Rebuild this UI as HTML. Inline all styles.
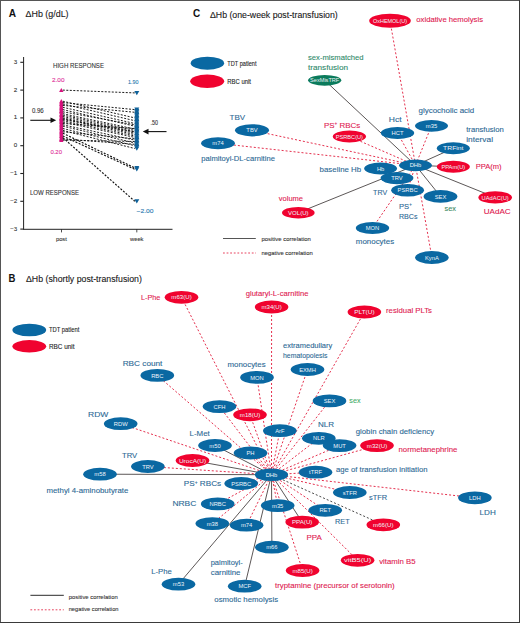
<!DOCTYPE html>
<html><head><meta charset="utf-8"><style>
html,body{margin:0;padding:0;background:#fff;}
body{width:520px;height:623px;overflow:hidden;}
svg{display:block;font-family:"Liberation Sans", sans-serif;}
</style></head><body>
<svg width="520" height="623" viewBox="0 0 520 623">
<rect x="0" y="0" width="520" height="623" fill="#fff"/>
<rect x="0" y="0" width="520" height="1" fill="#555"/>
<rect x="0" y="0" width="1" height="623" fill="#555"/>
<rect x="519" y="0" width="1" height="623" fill="#3a3a3a"/>
<rect x="0" y="622" width="520" height="1" fill="#3a3a3a"/>
<text x="8.7" y="16.5" font-size="10.3" fill="#111" font-weight="bold" textLength="7.3" lengthAdjust="spacingAndGlyphs">A</text>
<text x="25.6" y="16.8" font-size="8.7" fill="#181818" stroke="#181818" stroke-width="0.1" textLength="43.0" lengthAdjust="spacingAndGlyphs">&#916;Hb (g/dL)</text>
<line x1="23.6" y1="57" x2="23.6" y2="229.8" stroke="#222" stroke-width="1"/>
<line x1="23.6" y1="229.3" x2="172.5" y2="229.3" stroke="#222" stroke-width="1"/>
<line x1="20.3" y1="62.3" x2="23.6" y2="62.3" stroke="#222" stroke-width="1.1"/>
<text x="17.3" y="63.8" font-size="6.2" fill="#333" stroke="#333" stroke-width="0.1" text-anchor="end">3</text>
<line x1="20.3" y1="90.1" x2="23.6" y2="90.1" stroke="#222" stroke-width="1.1"/>
<text x="17.3" y="91.6" font-size="6.2" fill="#333" stroke="#333" stroke-width="0.1" text-anchor="end">2</text>
<line x1="20.3" y1="117.9" x2="23.6" y2="117.9" stroke="#222" stroke-width="1.1"/>
<text x="17.3" y="119.4" font-size="6.2" fill="#333" stroke="#333" stroke-width="0.1" text-anchor="end">1</text>
<line x1="20.3" y1="145.7" x2="23.6" y2="145.7" stroke="#222" stroke-width="1.1"/>
<text x="17.3" y="147.2" font-size="6.2" fill="#333" stroke="#333" stroke-width="0.1" text-anchor="end">0</text>
<line x1="20.3" y1="173.5" x2="23.6" y2="173.5" stroke="#222" stroke-width="1.1"/>
<text x="17.3" y="175.0" font-size="6.2" fill="#333" stroke="#333" stroke-width="0.1" text-anchor="end">&#8722;1</text>
<line x1="20.3" y1="201.3" x2="23.6" y2="201.3" stroke="#222" stroke-width="1.1"/>
<text x="17.3" y="202.8" font-size="6.2" fill="#333" stroke="#333" stroke-width="0.1" text-anchor="end">&#8722;2</text>
<line x1="20.3" y1="229.1" x2="23.6" y2="229.1" stroke="#222" stroke-width="1.1"/>
<text x="17.3" y="230.6" font-size="6.2" fill="#333" stroke="#333" stroke-width="0.1" text-anchor="end">&#8722;3</text>
<line x1="61.5" y1="229.3" x2="61.5" y2="232.4" stroke="#222" stroke-width="0.8"/>
<line x1="136.8" y1="229.3" x2="136.8" y2="232.4" stroke="#222" stroke-width="0.8"/>
<text x="55.9" y="241.2" font-size="6" fill="#333" stroke="#333" stroke-width="0.1" textLength="11.0" lengthAdjust="spacingAndGlyphs">post</text>
<text x="130.0" y="241.0" font-size="6.2" fill="#333" stroke="#333" stroke-width="0.1" textLength="13.5" lengthAdjust="spacingAndGlyphs">week</text>
<text x="53.0" y="68.3" font-size="6.6" fill="#333" stroke="#333" stroke-width="0.1" textLength="51.0" lengthAdjust="spacingAndGlyphs">HIGH RESPONSE</text>
<text x="30.0" y="194.9" font-size="6.6" fill="#333" stroke="#333" stroke-width="0.1" textLength="49.0" lengthAdjust="spacingAndGlyphs">LOW RESPONSE</text>
<text x="52.0" y="81.5" font-size="5.8" fill="#e0309a" stroke="#e0309a" stroke-width="0.1" textLength="12.5" lengthAdjust="spacingAndGlyphs">2.00</text>
<text x="50.4" y="154.2" font-size="5.8" fill="#e0309a" stroke="#e0309a" stroke-width="0.1" textLength="11.6" lengthAdjust="spacingAndGlyphs">0.20</text>
<text x="128.0" y="84.0" font-size="5.8" fill="#2a7ab0" stroke="#2a7ab0" stroke-width="0.1" textLength="10.5" lengthAdjust="spacingAndGlyphs">1.90</text>
<text x="136.5" y="212.8" font-size="5.8" fill="#2a7ab0" stroke="#2a7ab0" stroke-width="0.1" textLength="17.0" lengthAdjust="spacingAndGlyphs">&#8722;2.00</text>
<text x="31.9" y="112.9" font-size="6.3" fill="#333" stroke="#333" stroke-width="0.1" textLength="11.8" lengthAdjust="spacingAndGlyphs">0.96</text>
<text x="150.5" y="125.0" font-size="6.3" fill="#333" stroke="#333" stroke-width="0.1" textLength="7.5" lengthAdjust="spacingAndGlyphs">.50</text>
<line x1="30.3" y1="120.3" x2="52" y2="120.3" stroke="#111" stroke-width="1.1"/>
<path d="M50.5 117.5 L56.2 120.3 L50.5 123.1 Z" fill="#111"/>
<line x1="147.5" y1="131.6" x2="166.5" y2="131.6" stroke="#111" stroke-width="1.1"/>
<path d="M148.5 128.8 L142.8 131.6 L148.5 134.4 Z" fill="#111"/>
<path d="M59.099999999999994 92.1 L63.5 92.1 L61.3 87.9 Z" fill="#d8107e"/>
<path d="M59.099999999999994 103.2 L63.5 103.2 L61.3 99.0 Z" fill="#d8107e"/>
<path d="M59.099999999999994 104.6 L63.5 104.6 L61.3 100.4 Z" fill="#d8107e"/>
<path d="M59.099999999999994 106.0 L63.5 106.0 L61.3 101.8 Z" fill="#d8107e"/>
<path d="M59.099999999999994 107.4 L63.5 107.4 L61.3 103.2 Z" fill="#d8107e"/>
<path d="M59.099999999999994 109.3 L63.5 109.3 L61.3 105.1 Z" fill="#d8107e"/>
<path d="M59.099999999999994 111.6 L63.5 111.6 L61.3 107.4 Z" fill="#d8107e"/>
<path d="M59.099999999999994 113.8 L63.5 113.8 L61.3 109.6 Z" fill="#d8107e"/>
<path d="M59.099999999999994 115.7 L63.5 115.7 L61.3 111.5 Z" fill="#d8107e"/>
<path d="M59.099999999999994 117.1 L63.5 117.1 L61.3 112.9 Z" fill="#d8107e"/>
<path d="M59.099999999999994 118.5 L63.5 118.5 L61.3 114.3 Z" fill="#d8107e"/>
<path d="M59.099999999999994 119.9 L63.5 119.9 L61.3 115.7 Z" fill="#d8107e"/>
<path d="M59.099999999999994 120.7 L63.5 120.7 L61.3 116.5 Z" fill="#d8107e"/>
<path d="M59.099999999999994 121.6 L63.5 121.6 L61.3 117.4 Z" fill="#d8107e"/>
<path d="M59.099999999999994 122.7 L63.5 122.7 L61.3 118.5 Z" fill="#d8107e"/>
<path d="M59.099999999999994 124.1 L63.5 124.1 L61.3 119.9 Z" fill="#d8107e"/>
<path d="M59.099999999999994 125.5 L63.5 125.5 L61.3 121.3 Z" fill="#d8107e"/>
<path d="M59.099999999999994 126.8 L63.5 126.8 L61.3 122.6 Z" fill="#d8107e"/>
<path d="M59.099999999999994 128.2 L63.5 128.2 L61.3 124.0 Z" fill="#d8107e"/>
<path d="M59.099999999999994 130.5 L63.5 130.5 L61.3 126.3 Z" fill="#d8107e"/>
<path d="M59.099999999999994 132.4 L63.5 132.4 L61.3 128.2 Z" fill="#d8107e"/>
<path d="M59.099999999999994 133.8 L63.5 133.8 L61.3 129.6 Z" fill="#d8107e"/>
<path d="M59.099999999999994 135.2 L63.5 135.2 L61.3 131.0 Z" fill="#d8107e"/>
<path d="M59.099999999999994 138.0 L63.5 138.0 L61.3 133.8 Z" fill="#d8107e"/>
<path d="M59.099999999999994 139.6 L63.5 139.6 L61.3 135.4 Z" fill="#d8107e"/>
<path d="M59.099999999999994 141.0 L63.5 141.0 L61.3 136.8 Z" fill="#d8107e"/>
<path d="M59.099999999999994 142.1 L63.5 142.1 L61.3 137.9 Z" fill="#d8107e"/>
<path d="M59.099999999999994 110.2 L63.5 110.2 L61.3 106.0 Z" fill="#d8107e"/>
<path d="M59.099999999999994 112.9 L63.5 112.9 L61.3 108.7 Z" fill="#d8107e"/>
<path d="M59.099999999999994 129.6 L63.5 129.6 L61.3 125.4 Z" fill="#d8107e"/>
<path d="M59.099999999999994 136.6 L63.5 136.6 L61.3 132.4 Z" fill="#d8107e"/>
<line x1="62.8" y1="90.1" x2="134.8" y2="92.9" stroke="#111" stroke-width="0.95" stroke-dasharray="2 1.5"/>
<line x1="62.8" y1="101.2" x2="134.8" y2="117.9" stroke="#111" stroke-width="0.95" stroke-dasharray="2 1.5"/>
<line x1="62.8" y1="102.6" x2="134.8" y2="109.6" stroke="#111" stroke-width="0.95" stroke-dasharray="2 1.5"/>
<line x1="62.8" y1="104.0" x2="134.8" y2="120.7" stroke="#111" stroke-width="0.95" stroke-dasharray="2 1.5"/>
<line x1="62.8" y1="105.4" x2="134.8" y2="112.3" stroke="#111" stroke-width="0.95" stroke-dasharray="2 1.5"/>
<line x1="62.8" y1="107.3" x2="134.8" y2="123.5" stroke="#111" stroke-width="0.95" stroke-dasharray="2 1.5"/>
<line x1="62.8" y1="109.6" x2="134.8" y2="126.2" stroke="#111" stroke-width="0.95" stroke-dasharray="2 1.5"/>
<line x1="62.8" y1="111.8" x2="134.8" y2="124.8" stroke="#111" stroke-width="0.95" stroke-dasharray="2 1.5"/>
<line x1="62.8" y1="113.7" x2="134.8" y2="129.0" stroke="#111" stroke-width="0.95" stroke-dasharray="2 1.5"/>
<line x1="62.8" y1="115.1" x2="134.8" y2="130.4" stroke="#111" stroke-width="0.95" stroke-dasharray="2 1.5"/>
<line x1="62.8" y1="116.5" x2="134.8" y2="131.8" stroke="#111" stroke-width="0.95" stroke-dasharray="2 1.5"/>
<line x1="62.8" y1="117.9" x2="134.8" y2="133.2" stroke="#111" stroke-width="0.95" stroke-dasharray="2 1.5"/>
<line x1="62.8" y1="118.7" x2="134.8" y2="134.6" stroke="#111" stroke-width="0.95" stroke-dasharray="2 1.5"/>
<line x1="62.8" y1="119.6" x2="134.8" y2="131.8" stroke="#111" stroke-width="0.95" stroke-dasharray="2 1.5"/>
<line x1="62.8" y1="120.7" x2="134.8" y2="136.0" stroke="#111" stroke-width="0.95" stroke-dasharray="2 1.5"/>
<line x1="62.8" y1="122.1" x2="134.8" y2="137.4" stroke="#111" stroke-width="0.95" stroke-dasharray="2 1.5"/>
<line x1="62.8" y1="123.5" x2="134.8" y2="128.5" stroke="#111" stroke-width="0.95" stroke-dasharray="2 1.5"/>
<line x1="62.8" y1="124.8" x2="134.8" y2="140.1" stroke="#111" stroke-width="0.95" stroke-dasharray="2 1.5"/>
<line x1="62.8" y1="126.2" x2="134.8" y2="142.9" stroke="#111" stroke-width="0.95" stroke-dasharray="2 1.5"/>
<line x1="62.8" y1="128.5" x2="134.8" y2="145.7" stroke="#111" stroke-width="0.95" stroke-dasharray="2 1.5"/>
<line x1="62.8" y1="130.4" x2="134.8" y2="148.5" stroke="#111" stroke-width="0.95" stroke-dasharray="2 1.5"/>
<line x1="62.8" y1="131.8" x2="134.8" y2="138.8" stroke="#111" stroke-width="0.95" stroke-dasharray="2 1.5"/>
<line x1="62.8" y1="133.2" x2="134.8" y2="167.9" stroke="#111" stroke-width="1.15" stroke-dasharray="2 1.5"/>
<line x1="62.8" y1="136.0" x2="134.8" y2="169.3" stroke="#111" stroke-width="1.15" stroke-dasharray="2 1.5"/>
<line x1="62.8" y1="137.6" x2="134.8" y2="201.3" stroke="#111" stroke-width="1.15" stroke-dasharray="2 1.5"/>
<line x1="62.8" y1="139.0" x2="134.8" y2="144.3" stroke="#111" stroke-width="0.95" stroke-dasharray="2 1.5"/>
<line x1="62.8" y1="140.1" x2="134.8" y2="141.5" stroke="#111" stroke-width="0.95" stroke-dasharray="2 1.5"/>
<path d="M134.3 90.9 L139.3 90.9 L136.8 95.2 Z" fill="#0e6199"/>
<path d="M134.3 115.9 L139.3 115.9 L136.8 120.2 Z" fill="#0e6199"/>
<path d="M134.3 107.6 L139.3 107.6 L136.8 111.9 Z" fill="#0e6199"/>
<path d="M134.3 118.7 L139.3 118.7 L136.8 123.0 Z" fill="#0e6199"/>
<path d="M134.3 110.3 L139.3 110.3 L136.8 114.6 Z" fill="#0e6199"/>
<path d="M134.3 121.5 L139.3 121.5 L136.8 125.8 Z" fill="#0e6199"/>
<path d="M134.3 124.2 L139.3 124.2 L136.8 128.5 Z" fill="#0e6199"/>
<path d="M134.3 122.8 L139.3 122.8 L136.8 127.1 Z" fill="#0e6199"/>
<path d="M134.3 127.0 L139.3 127.0 L136.8 131.3 Z" fill="#0e6199"/>
<path d="M134.3 128.4 L139.3 128.4 L136.8 132.7 Z" fill="#0e6199"/>
<path d="M134.3 129.8 L139.3 129.8 L136.8 134.1 Z" fill="#0e6199"/>
<path d="M134.3 131.2 L139.3 131.2 L136.8 135.5 Z" fill="#0e6199"/>
<path d="M134.3 132.6 L139.3 132.6 L136.8 136.9 Z" fill="#0e6199"/>
<path d="M134.3 129.8 L139.3 129.8 L136.8 134.1 Z" fill="#0e6199"/>
<path d="M134.3 134.0 L139.3 134.0 L136.8 138.3 Z" fill="#0e6199"/>
<path d="M134.3 135.4 L139.3 135.4 L136.8 139.7 Z" fill="#0e6199"/>
<path d="M134.3 126.5 L139.3 126.5 L136.8 130.8 Z" fill="#0e6199"/>
<path d="M134.3 138.1 L139.3 138.1 L136.8 142.4 Z" fill="#0e6199"/>
<path d="M134.3 140.9 L139.3 140.9 L136.8 145.2 Z" fill="#0e6199"/>
<path d="M134.3 143.7 L139.3 143.7 L136.8 148.0 Z" fill="#0e6199"/>
<path d="M134.3 146.5 L139.3 146.5 L136.8 150.8 Z" fill="#0e6199"/>
<path d="M134.3 136.8 L139.3 136.8 L136.8 141.1 Z" fill="#0e6199"/>
<path d="M134.3 165.9 L139.3 165.9 L136.8 170.2 Z" fill="#0e6199"/>
<path d="M134.3 167.3 L139.3 167.3 L136.8 171.6 Z" fill="#0e6199"/>
<path d="M134.3 199.3 L139.3 199.3 L136.8 203.6 Z" fill="#0e6199"/>
<path d="M134.3 142.3 L139.3 142.3 L136.8 146.6 Z" fill="#0e6199"/>
<path d="M134.3 139.5 L139.3 139.5 L136.8 143.8 Z" fill="#0e6199"/>
<path d="M134.3 108.9 L139.3 108.9 L136.8 113.2 Z" fill="#0e6199"/>
<path d="M134.3 111.7 L139.3 111.7 L136.8 116.0 Z" fill="#0e6199"/>
<path d="M134.3 113.1 L139.3 113.1 L136.8 117.4 Z" fill="#0e6199"/>
<path d="M134.3 114.5 L139.3 114.5 L136.8 118.8 Z" fill="#0e6199"/>
<path d="M134.3 117.3 L139.3 117.3 L136.8 121.6 Z" fill="#0e6199"/>
<path d="M134.3 120.1 L139.3 120.1 L136.8 124.4 Z" fill="#0e6199"/>
<path d="M134.3 125.6 L139.3 125.6 L136.8 129.9 Z" fill="#0e6199"/>
<path d="M134.3 145.1 L139.3 145.1 L136.8 149.4 Z" fill="#0e6199"/>
<text x="192.9" y="16.6" font-size="10.3" fill="#111" font-weight="bold" textLength="7.2" lengthAdjust="spacingAndGlyphs">C</text>
<text x="210.0" y="18.0" font-size="8.7" fill="#181818" stroke="#181818" stroke-width="0.1" textLength="127.7" lengthAdjust="spacingAndGlyphs">&#916;Hb (one-week post-transfusion)</text>
<ellipse cx="207.4" cy="63.2" rx="16.7" ry="6.5" fill="#0a68a2"/>
<ellipse cx="207.2" cy="81.2" rx="17" ry="6.8" fill="#f0032f"/>
<text x="227.3" y="65.6" font-size="6.4" fill="#222" stroke="#222" stroke-width="0.1" textLength="29.2" lengthAdjust="spacingAndGlyphs">TDT patient</text>
<text x="227.3" y="83.6" font-size="6.4" fill="#222" stroke="#222" stroke-width="0.1" textLength="23.7" lengthAdjust="spacingAndGlyphs">RBC unit</text>
<line x1="223" y1="238.5" x2="255.8" y2="238.5" stroke="#555" stroke-width="1.2"/>
<line x1="223" y1="253" x2="256" y2="253" stroke="#e5304e" stroke-width="0.9" stroke-dasharray="1.8 1.8"/>
<text x="261.5" y="240.6" font-size="5.7" fill="#333" stroke="#333" stroke-width="0.1" textLength="49.3" lengthAdjust="spacingAndGlyphs">positive correlation</text>
<text x="261.5" y="255.0" font-size="5.7" fill="#333" stroke="#333" stroke-width="0.1" textLength="51.2" lengthAdjust="spacingAndGlyphs">negative correlation</text>
<line x1="390" y1="20.8" x2="415.5" y2="165.3" stroke="#e5304e" stroke-width="1" stroke-dasharray="2 2"/>
<line x1="324.7" y1="80.3" x2="415.5" y2="165.3" stroke="#4a4444" stroke-width="0.9"/>
<line x1="397.5" y1="133" x2="415.5" y2="165.3" stroke="#e5304e" stroke-width="1" stroke-dasharray="2 2"/>
<line x1="431.5" y1="125.8" x2="415.5" y2="165.3" stroke="#e5304e" stroke-width="1" stroke-dasharray="2 2"/>
<line x1="453.3" y1="148.3" x2="415.5" y2="165.3" stroke="#4a4444" stroke-width="0.9"/>
<line x1="453.3" y1="166.8" x2="415.5" y2="165.3" stroke="#4a4444" stroke-width="0.9"/>
<line x1="495.2" y1="197.4" x2="415.5" y2="165.3" stroke="#4a4444" stroke-width="0.9"/>
<line x1="440.5" y1="196.4" x2="415.5" y2="165.3" stroke="#4a4444" stroke-width="0.9"/>
<line x1="431.9" y1="257.5" x2="415.5" y2="165.3" stroke="#e5304e" stroke-width="1" stroke-dasharray="2 2"/>
<line x1="407.6" y1="190.2" x2="415.5" y2="165.3" stroke="#e5304e" stroke-width="1" stroke-dasharray="2 2"/>
<line x1="372.5" y1="228" x2="415.5" y2="165.3" stroke="#e5304e" stroke-width="1" stroke-dasharray="2 2"/>
<line x1="298.3" y1="212.7" x2="415.5" y2="165.3" stroke="#4a4444" stroke-width="0.9"/>
<line x1="349.4" y1="136.5" x2="415.5" y2="165.3" stroke="#e5304e" stroke-width="1" stroke-dasharray="2 2"/>
<line x1="252" y1="130.3" x2="415.5" y2="165.3" stroke="#e5304e" stroke-width="1" stroke-dasharray="2 2"/>
<line x1="218" y1="143.3" x2="415.5" y2="165.3" stroke="#e5304e" stroke-width="1" stroke-dasharray="2 2"/>
<ellipse cx="390" cy="20.8" rx="20.8" ry="7" fill="#f0032f"/>
<text x="390" y="22.9" font-size="5.8" fill="#eef4fa" text-anchor="middle" textLength="34.0" lengthAdjust="spacingAndGlyphs">OxHEMOL(U)</text>
<ellipse cx="324.7" cy="80.3" rx="16.6" ry="5.4" fill="#0b7b5c"/>
<text x="324.7" y="82.4" font-size="5.8" fill="#eef4fa" text-anchor="middle" textLength="29.2" lengthAdjust="spacingAndGlyphs">SexMisTRF</text>
<ellipse cx="397.5" cy="133" rx="16.7" ry="6.0" fill="#0a68a2"/>
<text x="397.5" y="135.1" font-size="5.8" fill="#eef4fa" text-anchor="middle">HCT</text>
<ellipse cx="431.5" cy="125.8" rx="16.5" ry="5.9" fill="#0a68a2"/>
<text x="431.5" y="127.9" font-size="5.8" fill="#eef4fa" text-anchor="middle">m35</text>
<ellipse cx="453.3" cy="148.3" rx="16.5" ry="6.0" fill="#0a68a2"/>
<text x="453.3" y="150.4" font-size="5.8" fill="#eef4fa" text-anchor="middle" textLength="20.4" lengthAdjust="spacingAndGlyphs">TRFint</text>
<ellipse cx="453.3" cy="166.8" rx="16.5" ry="6.0" fill="#f0032f"/>
<text x="453.3" y="168.9" font-size="5.8" fill="#eef4fa" text-anchor="middle" textLength="23.8" lengthAdjust="spacingAndGlyphs">PPAm(U)</text>
<ellipse cx="495.2" cy="197.4" rx="16.8" ry="6.2" fill="#f0032f"/>
<text x="495.2" y="199.5" font-size="5.8" fill="#eef4fa" text-anchor="middle" textLength="27.2" lengthAdjust="spacingAndGlyphs">UAdAC(U)</text>
<ellipse cx="440.5" cy="196.4" rx="16.9" ry="6.3" fill="#0a68a2"/>
<text x="440.5" y="198.5" font-size="5.8" fill="#eef4fa" text-anchor="middle">SEX</text>
<ellipse cx="431.9" cy="257.5" rx="16.8" ry="6.5" fill="#0a68a2"/>
<text x="431.9" y="259.6" font-size="5.8" fill="#eef4fa" text-anchor="middle">KynA</text>
<ellipse cx="407.6" cy="190.2" rx="16.4" ry="6.3" fill="#0a68a2"/>
<text x="407.6" y="192.3" font-size="5.8" fill="#eef4fa" text-anchor="middle">PSRBC</text>
<ellipse cx="397" cy="178.1" rx="16.4" ry="6.1" fill="#0a68a2"/>
<text x="397" y="180.2" font-size="5.8" fill="#eef4fa" text-anchor="middle">TRV</text>
<ellipse cx="380.6" cy="168.6" rx="16.4" ry="6.0" fill="#0a68a2"/>
<text x="380.6" y="170.7" font-size="5.8" fill="#eef4fa" text-anchor="middle">Hb</text>
<ellipse cx="372.5" cy="228" rx="16.7" ry="6.0" fill="#0a68a2"/>
<text x="372.5" y="230.1" font-size="5.8" fill="#eef4fa" text-anchor="middle">MON</text>
<ellipse cx="298.3" cy="212.7" rx="16.3" ry="5.8" fill="#f0032f"/>
<text x="298.3" y="214.8" font-size="5.8" fill="#eef4fa" text-anchor="middle" textLength="20.4" lengthAdjust="spacingAndGlyphs">VOL(U)</text>
<ellipse cx="349.4" cy="136.5" rx="16.6" ry="6.0" fill="#f0032f"/>
<text x="349.4" y="138.6" font-size="5.8" fill="#eef4fa" text-anchor="middle" textLength="27.2" lengthAdjust="spacingAndGlyphs">PSRBC(U)</text>
<ellipse cx="252" cy="130.3" rx="17" ry="6.1" fill="#0a68a2"/>
<text x="252" y="132.4" font-size="5.8" fill="#eef4fa" text-anchor="middle">TBV</text>
<ellipse cx="218" cy="143.3" rx="16.9" ry="6.0" fill="#0a68a2"/>
<text x="218" y="145.4" font-size="5.8" fill="#eef4fa" text-anchor="middle">m74</text>
<ellipse cx="415.5" cy="165.3" rx="16.4" ry="5.9" fill="#0a68a2"/>
<text x="415.5" y="167.4" font-size="5.8" fill="#eef4fa" text-anchor="middle">DHb</text>
<text x="416.3" y="21.6" font-size="7.2" fill="#e02050" stroke="#e02050" stroke-width="0.1" textLength="66.7" lengthAdjust="spacingAndGlyphs">oxidative hemolysis</text>
<text x="308.0" y="59.8" font-size="7.2" fill="#2f8a6a" stroke="#2f8a6a" stroke-width="0.1" textLength="55.6" lengthAdjust="spacingAndGlyphs">sex-mismatched</text>
<text x="308.0" y="70.0" font-size="7.2" fill="#2f8a6a" stroke="#2f8a6a" stroke-width="0.1" textLength="40.0" lengthAdjust="spacingAndGlyphs">transfusion</text>
<text x="388.8" y="121.7" font-size="7.6" fill="#2b6894" stroke="#2b6894" stroke-width="0.1" textLength="12.8" lengthAdjust="spacingAndGlyphs">Hct</text>
<text x="418.5" y="112.6" font-size="7.2" fill="#2b6894" stroke="#2b6894" stroke-width="0.1" textLength="55.8" lengthAdjust="spacingAndGlyphs">glycocholic acid</text>
<text x="466.2" y="131.8" font-size="7.2" fill="#2b6894" stroke="#2b6894" stroke-width="0.1" textLength="37.7" lengthAdjust="spacingAndGlyphs">transfusion</text>
<text x="466.2" y="141.9" font-size="7.2" fill="#2b6894" stroke="#2b6894" stroke-width="0.1" textLength="26.8" lengthAdjust="spacingAndGlyphs">interval</text>
<text x="324.0" y="127.6" font-size="8.1" fill="#e02050" stroke="#e02050" stroke-width="0.1" textLength="36.3" lengthAdjust="spacingAndGlyphs">PS<tspan font-size='4.8' dy='-2.7'>+</tspan><tspan dy='2.7'> RBCs</tspan></text>
<text x="229.6" y="119.7" font-size="7.6" fill="#2b6894" stroke="#2b6894" stroke-width="0.1" textLength="15.6" lengthAdjust="spacingAndGlyphs">TBV</text>
<text x="201.3" y="161.3" font-size="7.2" fill="#2b6894" stroke="#2b6894" stroke-width="0.1" textLength="73.6" lengthAdjust="spacingAndGlyphs">palmitoyl-DL-carnitine</text>
<text x="319.6" y="171.6" font-size="7.6" fill="#2b6894" stroke="#2b6894" stroke-width="0.1" textLength="41.6" lengthAdjust="spacingAndGlyphs">baseline Hb</text>
<text x="475.7" y="169.3" font-size="7.6" fill="#e02050" stroke="#e02050" stroke-width="0.1" textLength="25.9" lengthAdjust="spacingAndGlyphs">PPA(m)</text>
<text x="373.1" y="195.0" font-size="7.6" fill="#2b6894" stroke="#2b6894" stroke-width="0.1" textLength="14.0" lengthAdjust="spacingAndGlyphs">TRV</text>
<text x="399.0" y="208.7" font-size="7.6" fill="#2b6894" stroke="#2b6894" stroke-width="0.1">PS<tspan font-size='4.5' dy='-2.5'>+</tspan></text>
<text x="399.0" y="219.3" font-size="7.6" fill="#2b6894" stroke="#2b6894" stroke-width="0.1" textLength="18.5" lengthAdjust="spacingAndGlyphs">RBCs</text>
<text x="444.6" y="211.2" font-size="7.6" fill="#3d8a62" stroke="#3d8a62" stroke-width="0.1" textLength="11.4" lengthAdjust="spacingAndGlyphs">sex</text>
<text x="483.7" y="213.9" font-size="7.6" fill="#e02050" stroke="#e02050" stroke-width="0.1" textLength="27.0" lengthAdjust="spacingAndGlyphs">UAdAC</text>
<text x="278.8" y="201.2" font-size="7.2" fill="#e02050" stroke="#e02050" stroke-width="0.1" textLength="24.2" lengthAdjust="spacingAndGlyphs">volume</text>
<text x="355.8" y="244.1" font-size="7.2" fill="#2b6894" stroke="#2b6894" stroke-width="0.1" textLength="38.4" lengthAdjust="spacingAndGlyphs">monocytes</text>
<text x="8.4" y="281.8" font-size="10.3" fill="#111" font-weight="bold" textLength="6.9" lengthAdjust="spacingAndGlyphs">B</text>
<text x="26.0" y="282.2" font-size="8.7" fill="#181818" stroke="#181818" stroke-width="0.1" textLength="115.9" lengthAdjust="spacingAndGlyphs">&#916;Hb (shortly post-transfusion)</text>
<ellipse cx="29.3" cy="330" rx="16.9" ry="6.3" fill="#0a68a2"/>
<ellipse cx="29.3" cy="346.3" rx="16.9" ry="6.2" fill="#f0032f"/>
<text x="49.0" y="331.7" font-size="6.4" fill="#222" stroke="#222" stroke-width="0.1" textLength="30.3" lengthAdjust="spacingAndGlyphs">TDT patient</text>
<text x="49.0" y="348.6" font-size="6.4" fill="#222" stroke="#222" stroke-width="0.1" textLength="25.5" lengthAdjust="spacingAndGlyphs">RBC unit</text>
<line x1="30.4" y1="595.3" x2="63.8" y2="595.3" stroke="#555" stroke-width="1.2"/>
<line x1="30.4" y1="609.8" x2="63.8" y2="609.8" stroke="#e5304e" stroke-width="0.9" stroke-dasharray="1.8 1.8"/>
<text x="68.7" y="598.9" font-size="5.8" fill="#333" stroke="#333" stroke-width="0.1" textLength="49.0" lengthAdjust="spacingAndGlyphs">positive correlation</text>
<text x="68.7" y="611.3" font-size="5.8" fill="#333" stroke="#333" stroke-width="0.1" textLength="49.8" lengthAdjust="spacingAndGlyphs">negative correlation</text>
<line x1="181.5" y1="297.3" x2="271.5" y2="474.7" stroke="#e5304e" stroke-width="1" stroke-dasharray="2 2"/>
<line x1="271.6" y1="307" x2="271.5" y2="474.7" stroke="#e5304e" stroke-width="1" stroke-dasharray="2 2"/>
<line x1="364.4" y1="312" x2="271.5" y2="474.7" stroke="#e5304e" stroke-width="1" stroke-dasharray="2 2"/>
<line x1="157.3" y1="375.4" x2="271.5" y2="474.7" stroke="#e5304e" stroke-width="1" stroke-dasharray="2 2"/>
<line x1="257" y1="377.4" x2="271.5" y2="474.7" stroke="#e5304e" stroke-width="1" stroke-dasharray="2 2"/>
<line x1="307.5" y1="369.5" x2="271.5" y2="474.7" stroke="#e5304e" stroke-width="1" stroke-dasharray="2 2"/>
<line x1="219.5" y1="406.6" x2="271.5" y2="474.7" stroke="#e5304e" stroke-width="1" stroke-dasharray="2 2"/>
<line x1="250" y1="414.8" x2="271.5" y2="474.7" stroke="#e5304e" stroke-width="1" stroke-dasharray="2 2"/>
<line x1="329.5" y1="400.9" x2="271.5" y2="474.7" stroke="#e5304e" stroke-width="1" stroke-dasharray="2 2"/>
<line x1="120.7" y1="423.7" x2="271.5" y2="474.7" stroke="#e5304e" stroke-width="1" stroke-dasharray="2 2"/>
<line x1="279.8" y1="430.7" x2="271.5" y2="474.7" stroke="#e5304e" stroke-width="1" stroke-dasharray="2 2"/>
<line x1="318.8" y1="438.3" x2="271.5" y2="474.7" stroke="#e5304e" stroke-width="1" stroke-dasharray="2 2"/>
<line x1="339.6" y1="445.6" x2="271.5" y2="474.7" stroke="#e5304e" stroke-width="1" stroke-dasharray="2 2"/>
<line x1="377" y1="445.6" x2="271.5" y2="474.7" stroke="#e5304e" stroke-width="1" stroke-dasharray="2 2"/>
<line x1="215" y1="445.5" x2="271.5" y2="474.7" stroke="#4a4444" stroke-width="0.9"/>
<line x1="250.5" y1="453" x2="271.5" y2="474.7" stroke="#e5304e" stroke-width="1" stroke-dasharray="2 2"/>
<line x1="192.5" y1="460.5" x2="271.5" y2="474.7" stroke="#4a4444" stroke-width="0.9"/>
<line x1="147.9" y1="466.5" x2="271.5" y2="474.7" stroke="#e5304e" stroke-width="1" stroke-dasharray="2 2"/>
<line x1="100" y1="474.2" x2="271.5" y2="474.7" stroke="#4a4444" stroke-width="0.9"/>
<line x1="315.5" y1="472.2" x2="271.5" y2="474.7" stroke="#e5304e" stroke-width="1" stroke-dasharray="2 2"/>
<line x1="474.9" y1="497.8" x2="271.5" y2="474.7" stroke="#e5304e" stroke-width="1" stroke-dasharray="2 2"/>
<line x1="349.8" y1="492.5" x2="271.5" y2="474.7" stroke="#e5304e" stroke-width="1" stroke-dasharray="2 2"/>
<line x1="241.2" y1="483.5" x2="271.5" y2="474.7" stroke="#e5304e" stroke-width="1" stroke-dasharray="2 2"/>
<line x1="217.7" y1="503.9" x2="271.5" y2="474.7" stroke="#e5304e" stroke-width="1" stroke-dasharray="2 2"/>
<line x1="277.7" y1="505.6" x2="271.5" y2="474.7" stroke="#e5304e" stroke-width="1" stroke-dasharray="2 2"/>
<line x1="325.2" y1="510.3" x2="271.5" y2="474.7" stroke="#e5304e" stroke-width="1" stroke-dasharray="2 2"/>
<line x1="383.3" y1="524.8" x2="271.5" y2="474.7" stroke="#333" stroke-width="0.9" stroke-dasharray="2 2"/>
<line x1="302.2" y1="522.1" x2="271.5" y2="474.7" stroke="#4a4444" stroke-width="0.9"/>
<line x1="212.3" y1="523.6" x2="271.5" y2="474.7" stroke="#e5304e" stroke-width="1" stroke-dasharray="2 2"/>
<line x1="246.6" y1="525.2" x2="271.5" y2="474.7" stroke="#e5304e" stroke-width="1" stroke-dasharray="2 2"/>
<line x1="357.6" y1="560.3" x2="271.5" y2="474.7" stroke="#e5304e" stroke-width="1" stroke-dasharray="2 2"/>
<line x1="302.6" y1="570.5" x2="271.5" y2="474.7" stroke="#e5304e" stroke-width="1" stroke-dasharray="2 2"/>
<line x1="271.9" y1="547.2" x2="271.5" y2="474.7" stroke="#4a4444" stroke-width="0.9"/>
<line x1="178.5" y1="584.2" x2="271.5" y2="474.7" stroke="#4a4444" stroke-width="0.9"/>
<line x1="244.7" y1="586.2" x2="271.5" y2="474.7" stroke="#4a4444" stroke-width="0.9"/>
<ellipse cx="181.5" cy="297.3" rx="16.8" ry="6.4" fill="#f0032f"/>
<text x="181.5" y="299.4" font-size="5.8" fill="#eef4fa" text-anchor="middle" textLength="20.4" lengthAdjust="spacingAndGlyphs">m63(U)</text>
<ellipse cx="271.6" cy="307" rx="16.8" ry="6.4" fill="#f0032f"/>
<text x="271.6" y="309.1" font-size="5.8" fill="#eef4fa" text-anchor="middle" textLength="20.4" lengthAdjust="spacingAndGlyphs">m34(U)</text>
<ellipse cx="364.4" cy="312" rx="16.8" ry="6.4" fill="#f0032f"/>
<text x="364.4" y="314.1" font-size="5.8" fill="#eef4fa" text-anchor="middle" textLength="20.4" lengthAdjust="spacingAndGlyphs">PLT(U)</text>
<ellipse cx="157.3" cy="375.4" rx="16.8" ry="6.4" fill="#0a68a2"/>
<text x="157.3" y="377.5" font-size="5.8" fill="#eef4fa" text-anchor="middle">RBC</text>
<ellipse cx="257" cy="377.4" rx="16.8" ry="6.4" fill="#0a68a2"/>
<text x="257" y="379.5" font-size="5.8" fill="#eef4fa" text-anchor="middle">MON</text>
<ellipse cx="307.5" cy="369.5" rx="16.8" ry="6.4" fill="#0a68a2"/>
<text x="307.5" y="371.6" font-size="5.8" fill="#eef4fa" text-anchor="middle">EXMH</text>
<ellipse cx="219.5" cy="406.6" rx="16.8" ry="6.4" fill="#0a68a2"/>
<text x="219.5" y="408.7" font-size="5.8" fill="#eef4fa" text-anchor="middle">CFH</text>
<ellipse cx="250" cy="414.8" rx="16.8" ry="6.4" fill="#f0032f"/>
<text x="250" y="416.9" font-size="5.8" fill="#eef4fa" text-anchor="middle" textLength="20.4" lengthAdjust="spacingAndGlyphs">m18(U)</text>
<ellipse cx="329.5" cy="400.9" rx="16.8" ry="6.4" fill="#0a68a2"/>
<text x="329.5" y="403.0" font-size="5.8" fill="#eef4fa" text-anchor="middle">SEX</text>
<ellipse cx="120.7" cy="423.7" rx="16.8" ry="6.4" fill="#0a68a2"/>
<text x="120.7" y="425.8" font-size="5.8" fill="#eef4fa" text-anchor="middle">RDW</text>
<ellipse cx="279.8" cy="430.7" rx="16.8" ry="6.4" fill="#0a68a2"/>
<text x="279.8" y="432.8" font-size="5.8" fill="#eef4fa" text-anchor="middle">ArF</text>
<ellipse cx="318.8" cy="438.3" rx="16.8" ry="6.4" fill="#0a68a2"/>
<text x="318.8" y="440.4" font-size="5.8" fill="#eef4fa" text-anchor="middle">NLR</text>
<ellipse cx="339.6" cy="445.6" rx="16.8" ry="6.4" fill="#0a68a2"/>
<text x="339.6" y="447.7" font-size="5.8" fill="#eef4fa" text-anchor="middle">MUT</text>
<ellipse cx="377" cy="445.6" rx="16.8" ry="6.4" fill="#f0032f"/>
<text x="377" y="447.7" font-size="5.8" fill="#eef4fa" text-anchor="middle" textLength="20.4" lengthAdjust="spacingAndGlyphs">m32(U)</text>
<ellipse cx="215" cy="445.5" rx="16.8" ry="6.4" fill="#0a68a2"/>
<text x="215" y="447.6" font-size="5.8" fill="#eef4fa" text-anchor="middle">m50</text>
<ellipse cx="250.5" cy="453" rx="16.8" ry="6.4" fill="#0a68a2"/>
<text x="250.5" y="455.1" font-size="5.8" fill="#eef4fa" text-anchor="middle">PH</text>
<ellipse cx="192.5" cy="460.5" rx="16.8" ry="6.4" fill="#f0032f"/>
<text x="192.5" y="462.6" font-size="5.8" fill="#eef4fa" text-anchor="middle" textLength="27.2" lengthAdjust="spacingAndGlyphs">UrocA(U)</text>
<ellipse cx="147.9" cy="466.5" rx="16.8" ry="6.4" fill="#0a68a2"/>
<text x="147.9" y="468.6" font-size="5.8" fill="#eef4fa" text-anchor="middle">TRV</text>
<ellipse cx="100" cy="474.2" rx="16.8" ry="6.4" fill="#0a68a2"/>
<text x="100" y="476.3" font-size="5.8" fill="#eef4fa" text-anchor="middle">m58</text>
<ellipse cx="315.5" cy="472.2" rx="16.8" ry="6.4" fill="#0a68a2"/>
<text x="315.5" y="474.3" font-size="5.8" fill="#eef4fa" text-anchor="middle">tTRF</text>
<ellipse cx="474.9" cy="497.8" rx="16.8" ry="6.4" fill="#0a68a2"/>
<text x="474.9" y="499.9" font-size="5.8" fill="#eef4fa" text-anchor="middle">LDH</text>
<ellipse cx="349.8" cy="492.5" rx="16.8" ry="6.4" fill="#0a68a2"/>
<text x="349.8" y="494.6" font-size="5.8" fill="#eef4fa" text-anchor="middle">sTFR</text>
<ellipse cx="241.2" cy="483.5" rx="16.8" ry="6.4" fill="#0a68a2"/>
<text x="241.2" y="485.6" font-size="5.8" fill="#eef4fa" text-anchor="middle">PSRBC</text>
<ellipse cx="217.7" cy="503.9" rx="16.8" ry="6.4" fill="#0a68a2"/>
<text x="217.7" y="506.0" font-size="5.8" fill="#eef4fa" text-anchor="middle">NRBC</text>
<ellipse cx="277.7" cy="505.6" rx="16.8" ry="6.4" fill="#0a68a2"/>
<text x="277.7" y="507.7" font-size="5.8" fill="#eef4fa" text-anchor="middle">m35</text>
<ellipse cx="325.2" cy="510.3" rx="16.8" ry="6.4" fill="#0a68a2"/>
<text x="325.2" y="512.4" font-size="5.8" fill="#eef4fa" text-anchor="middle">RET</text>
<ellipse cx="383.3" cy="524.8" rx="16.8" ry="6.4" fill="#f0032f"/>
<text x="383.3" y="526.9" font-size="5.8" fill="#eef4fa" text-anchor="middle" textLength="20.4" lengthAdjust="spacingAndGlyphs">m66(U)</text>
<ellipse cx="302.2" cy="522.1" rx="16.8" ry="6.4" fill="#f0032f"/>
<text x="302.2" y="524.2" font-size="5.8" fill="#eef4fa" text-anchor="middle" textLength="20.4" lengthAdjust="spacingAndGlyphs">PPA(U)</text>
<ellipse cx="212.3" cy="523.6" rx="16.8" ry="6.4" fill="#0a68a2"/>
<text x="212.3" y="525.7" font-size="5.8" fill="#eef4fa" text-anchor="middle">m38</text>
<ellipse cx="246.6" cy="525.2" rx="16.8" ry="6.4" fill="#0a68a2"/>
<text x="246.6" y="527.3" font-size="5.8" fill="#eef4fa" text-anchor="middle">m74</text>
<ellipse cx="357.6" cy="560.3" rx="16.8" ry="6.4" fill="#f0032f"/>
<text x="357.6" y="562.4" font-size="5.8" fill="#eef4fa" text-anchor="middle" textLength="27.2" lengthAdjust="spacingAndGlyphs">vitB5(U)</text>
<ellipse cx="302.6" cy="570.5" rx="16.8" ry="6.4" fill="#f0032f"/>
<text x="302.6" y="572.6" font-size="5.8" fill="#eef4fa" text-anchor="middle" textLength="20.4" lengthAdjust="spacingAndGlyphs">m85(U)</text>
<ellipse cx="271.9" cy="547.2" rx="16.8" ry="6.4" fill="#0a68a2"/>
<text x="271.9" y="549.3" font-size="5.8" fill="#eef4fa" text-anchor="middle">m66</text>
<ellipse cx="178.5" cy="584.2" rx="16.8" ry="6.4" fill="#0a68a2"/>
<text x="178.5" y="586.3" font-size="5.8" fill="#eef4fa" text-anchor="middle">m53</text>
<ellipse cx="244.7" cy="586.2" rx="16.8" ry="6.4" fill="#0a68a2"/>
<text x="244.7" y="588.3" font-size="5.8" fill="#eef4fa" text-anchor="middle">MCF</text>
<ellipse cx="271.5" cy="474.7" rx="16.6" ry="6.3" fill="#0a68a2"/>
<text x="271.5" y="476.8" font-size="5.8" fill="#eef4fa" text-anchor="middle">DHb</text>
<text x="141.0" y="300.1" font-size="7.6" fill="#e02050" stroke="#e02050" stroke-width="0.1" textLength="19.3" lengthAdjust="spacingAndGlyphs">L-Phe</text>
<text x="245.7" y="295.7" font-size="7.2" fill="#e02050" stroke="#e02050" stroke-width="0.1" textLength="62.8" lengthAdjust="spacingAndGlyphs">glutaryl-L-carnitine</text>
<text x="386.0" y="312.7" font-size="7.6" fill="#e02050" stroke="#e02050" stroke-width="0.1" textLength="46.0" lengthAdjust="spacingAndGlyphs">residual PLTs</text>
<text x="122.7" y="365.7" font-size="7.8" fill="#2b6894" stroke="#2b6894" stroke-width="0.1" textLength="39.7" lengthAdjust="spacingAndGlyphs">RBC count</text>
<text x="227.5" y="366.8" font-size="7.4" fill="#2b6894" stroke="#2b6894" stroke-width="0.1" textLength="38.1" lengthAdjust="spacingAndGlyphs">monocytes</text>
<text x="283.0" y="347.7" font-size="7.2" fill="#2b6894" stroke="#2b6894" stroke-width="0.1" textLength="49.3" lengthAdjust="spacingAndGlyphs">extramedullary</text>
<text x="283.0" y="358.3" font-size="7.2" fill="#2b6894" stroke="#2b6894" stroke-width="0.1" textLength="44.5" lengthAdjust="spacingAndGlyphs">hematopoiesis</text>
<text x="349.3" y="402.8" font-size="7.4" fill="#45ad68" stroke="#45ad68" stroke-width="0.1" textLength="11.2" lengthAdjust="spacingAndGlyphs">sex</text>
<text x="88.0" y="416.9" font-size="7.8" fill="#2b6894" stroke="#2b6894" stroke-width="0.1" textLength="20.3" lengthAdjust="spacingAndGlyphs">RDW</text>
<text x="317.9" y="427.0" font-size="7.8" fill="#2b6894" stroke="#2b6894" stroke-width="0.1" textLength="16.1" lengthAdjust="spacingAndGlyphs">NLR</text>
<text x="355.7" y="433.6" font-size="7.4" fill="#2b6894" stroke="#2b6894" stroke-width="0.1" textLength="78.4" lengthAdjust="spacingAndGlyphs">globin chain deficiency</text>
<text x="189.6" y="436.2" font-size="7.6" fill="#2b6894" stroke="#2b6894" stroke-width="0.1" textLength="20.2" lengthAdjust="spacingAndGlyphs">L-Met</text>
<text x="398.5" y="451.5" font-size="7.2" fill="#e02050" stroke="#e02050" stroke-width="0.1" textLength="58.8" lengthAdjust="spacingAndGlyphs">normetanephrine</text>
<text x="122.0" y="458.3" font-size="7.8" fill="#2b6894" stroke="#2b6894" stroke-width="0.1" textLength="15.2" lengthAdjust="spacingAndGlyphs">TRV</text>
<text x="336.0" y="471.7" font-size="7.2" fill="#2b6894" stroke="#2b6894" stroke-width="0.1" textLength="91.5" lengthAdjust="spacingAndGlyphs">age of transfusion initiation</text>
<text x="46.5" y="493.2" font-size="7.2" fill="#2b6894" stroke="#2b6894" stroke-width="0.1" textLength="81.8" lengthAdjust="spacingAndGlyphs">methyl 4-aminobutyrate</text>
<text x="183.8" y="486.2" font-size="8" fill="#2b6894" stroke="#2b6894" stroke-width="0.1" textLength="37.4" lengthAdjust="spacingAndGlyphs">PS<tspan font-size='4.8' dy='-2.7'>+</tspan><tspan dy='2.7'> RBCs</tspan></text>
<text x="369.0" y="499.5" font-size="7.8" fill="#2b6894" stroke="#2b6894" stroke-width="0.1" textLength="18.2" lengthAdjust="spacingAndGlyphs">sTFR</text>
<text x="172.4" y="506.4" font-size="7.8" fill="#2b6894" stroke="#2b6894" stroke-width="0.1" textLength="23.9" lengthAdjust="spacingAndGlyphs">NRBC</text>
<text x="479.6" y="515.4" font-size="7.8" fill="#2b6894" stroke="#2b6894" stroke-width="0.1" textLength="16.2" lengthAdjust="spacingAndGlyphs">LDH</text>
<text x="335.0" y="524.4" font-size="7.8" fill="#2b6894" stroke="#2b6894" stroke-width="0.1" textLength="14.6" lengthAdjust="spacingAndGlyphs">RET</text>
<text x="306.5" y="540.2" font-size="7.8" fill="#e02050" stroke="#e02050" stroke-width="0.1" textLength="15.3" lengthAdjust="spacingAndGlyphs">PPA</text>
<text x="379.2" y="563.6" font-size="7.4" fill="#e02050" stroke="#e02050" stroke-width="0.1" textLength="36.3" lengthAdjust="spacingAndGlyphs">vitamin B5</text>
<text x="151.2" y="574.0" font-size="7.6" fill="#2b6894" stroke="#2b6894" stroke-width="0.1" textLength="20.6" lengthAdjust="spacingAndGlyphs">L-Phe</text>
<text x="210.7" y="565.0" font-size="7.2" fill="#2b6894" stroke="#2b6894" stroke-width="0.1" textLength="32.1" lengthAdjust="spacingAndGlyphs">palmitoyl-</text>
<text x="210.7" y="574.8" font-size="7.2" fill="#2b6894" stroke="#2b6894" stroke-width="0.1" textLength="29.8" lengthAdjust="spacingAndGlyphs">carnitine</text>
<text x="275.0" y="587.7" font-size="7.2" fill="#e02050" stroke="#e02050" stroke-width="0.1" textLength="119.7" lengthAdjust="spacingAndGlyphs">tryptamine (precursor of serotonin)</text>
<text x="214.3" y="601.9" font-size="7.2" fill="#2b6894" stroke="#2b6894" stroke-width="0.1" textLength="63.8" lengthAdjust="spacingAndGlyphs">osmotic hemolysis</text>
</svg></body></html>
